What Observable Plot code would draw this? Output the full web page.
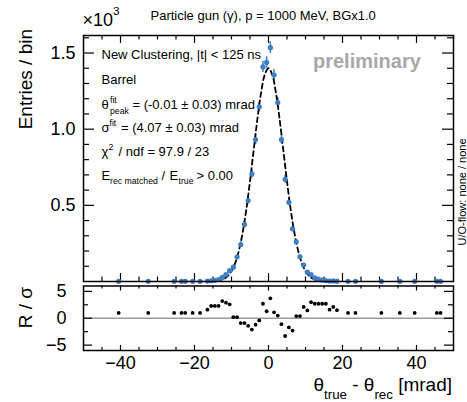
<!DOCTYPE html>
<html><head><meta charset="utf-8">
<script src="https://cdn.jsdelivr.net/npm/d3@7"></script>
<script src="https://cdn.jsdelivr.net/npm/@observablehq/plot@0.6"></script>
<style>
body{margin:0;background:#fff;}
#chart{position:relative;width:467px;height:402px;overflow:hidden;background:#fff;}
#chart svg{display:block;}
text{white-space:pre;}
</style></head><body><div id="chart"></div>
<script>
// ---- data ----
const binCenters = [-40.5,-32.5,-25.5,-23.5,-22.5,-20.5,-18.5,-16.5,-15.5,-14.5,-13.5,-12.5,-11.5,-10.5,-9.5,-8.5,-7.5,-6.5,-5.5,-4.5,-3.5,-2.5,-1.5,-0.5,0.5,1.5,2.5,3.5,4.5,5.5,6.5,7.5,8.5,9.5,10.5,11.5,12.5,13.5,14.5,15.5,16.5,17.5,18.5,21.5,23.5,30.5,35.5,39.5,45.5,46.5];
// entries per bin, in units of 10^3
const entries = [0.001,0.001,0.001,0.001,0.001,0.001,0.001,0.003,0.005,0.008,0.013,0.027,0.045,0.071,0.094,0.161,0.243,0.375,0.531,0.706,0.932,1.147,1.409,1.438,1.535,1.355,1.175,0.932,0.671,0.520,0.346,0.261,0.162,0.108,0.061,0.045,0.024,0.015,0.010,0.006,0.003,0.004,0.002,0.001,0.001,0.001,0.001,0.001,0.001,0.001];
// residuals R/sigma per bin
const residuals = [1.0,1.0,1.0,1.0,1.0,1.0,1.0,1.6,2.3,2.3,2.3,3.2,2.9,2.6,0.2,0.2,-0.9,-0.9,-1.4,-2.1,-1.2,-0.4,2.7,1.3,3.7,1.1,0.5,-1.1,-3.3,-1.7,-2.3,0.4,0.4,2.1,1.45,3.0,2.7,2.7,2.7,2.7,1.6,2.1,1.5,1.0,1.0,1.0,1.0,1.0,1.0,1.0];
// fitted curve, read at integer points (units of 10^3)
const fitX = [-14,-13,-12,-11,-10,-9,-8,-7,-6,-5,-4,-3,-2,-1,0,1,2,3,4,5,6,7,8,9,10,11,12,13,14];
const fitY = [0.004,0.009,0.018,0.036,0.068,0.121,0.203,0.319,0.472,0.658,0.864,1.067,1.240,1.358,1.400,1.358,1.240,1.067,0.864,0.658,0.472,0.319,0.203,0.121,0.068,0.036,0.018,0.009,0.004];
// ticks
const xMajorTicks = [-40,-20,0,20,40];
const xMinorTicks = [-45,-35,-30,-25,-15,-10,-5,5,10,15,25,30,35,45];
const yMajorTicks = [0.5,1.0,1.5];
const yMinorTicks = [0.1,0.2,0.3,0.4,0.6,0.7,0.8,0.9,1.1,1.2,1.3,1.4,1.6];
const rMajorTicks = [-5,0,5];
const rMinorTicks = [-2.5,2.5];

// ---- layout ----
const FONT = "'Liberation Sans', Arial, Helvetica, sans-serif";
const BLUE = "#3d7fc4";
const W = 467, mL = 83, mR = 14;
const topH = 284, topMT = 35, topMB = 3;
const botH = 118, botMT = 1.5, botMB = 52;
const FW = W - mL - mR;
const topFH = topH - topMT - topMB;
const botFH = botH - botMT - botMB;

const hist = binCenters.map((x, i) => ({x, y: entries[i], err: Math.sqrt(entries[i] * 1000) / 1000, r: residuals[i]}));
const fit = fitX.map((x, i) => ({x, y: fitY[i]}));

const plotStyle = {fontFamily: FONT, fontSize: "18px", color: "#000", background: "transparent", overflow: "visible"};

function frameTicks(xMaj, xMin, yMaj, yMin, fh, xl, xs, yl, ys) {
  return [
    Plot.ruleY(yMaj, {insetRight: FW - yl, stroke: "#000", strokeWidth: 1.2}),
    Plot.ruleY(yMaj, {insetLeft: FW - yl, stroke: "#000", strokeWidth: 1.2}),
    Plot.ruleY(yMin, {insetRight: FW - ys, stroke: "#000", strokeWidth: 1.2}),
    Plot.ruleY(yMin, {insetLeft: FW - ys, stroke: "#000", strokeWidth: 1.2}),
    Plot.ruleX(xMaj, {insetTop: fh - xl, stroke: "#000", strokeWidth: 1.2}),
    Plot.ruleX(xMaj, {insetBottom: fh - xl, stroke: "#000", strokeWidth: 1.2}),
    Plot.ruleX(xMin, {insetTop: fh - xs, stroke: "#000", strokeWidth: 1.2}),
    Plot.ruleX(xMin, {insetBottom: fh - xs, stroke: "#000", strokeWidth: 1.2})
  ];
}

const topPlot = Plot.plot({
  width: W, height: topH, marginLeft: mL, marginRight: mR, marginTop: topMT, marginBottom: topMB,
  style: plotStyle,
  x: {domain: [-50, 50], axis: null},
  y: {domain: [0, 1.615]},
  marks: [
    Plot.axisY({ticks: yMajorTicks, tickSize: 0, tickPadding: 8, tickFormat: d3.format(".1f"), label: null}),
    ...frameTicks(xMajorTicks, xMinorTicks, yMajorTicks, yMinorTicks, topFH, 8, 4.5, 11, 6),
    Plot.ruleX(hist, {x: "x", y1: d => d.y - d.err, y2: d => d.y + d.err, stroke: BLUE, strokeWidth: 1.5}),
    Plot.line(fit, {x: "x", y: "y", curve: "catmull-rom", stroke: "#000", strokeWidth: 1.8, strokeDasharray: "5,3.5"}),
    Plot.dot(hist, {x: "x", y: "y", r: 2.6, fill: BLUE}),
    Plot.frame({stroke: "#000", strokeWidth: 1.5})
  ]
});

const botPlot = Plot.plot({
  width: W, height: botH, marginLeft: mL, marginRight: mR, marginTop: botMT, marginBottom: botMB,
  style: plotStyle,
  x: {domain: [-50, 50]},
  y: {domain: [-6, 6]},
  marks: [
    Plot.ruleY([0], {stroke: "#999", strokeWidth: 1.6}),
    Plot.axisX({ticks: xMajorTicks, tickSize: 0, tickPadding: 6, label: null}),
    Plot.axisY({ticks: rMajorTicks, tickSize: 0, tickPadding: 17, label: null}),
    ...frameTicks(xMajorTicks, xMinorTicks, rMajorTicks, rMinorTicks, botFH, 5, 3, 9, 5),
    Plot.dot(hist, {x: "x", y: "r", r: 1.9, fill: "#000"}),
    Plot.frame({stroke: "#000", strokeWidth: 1.5})
  ]
});

const chart = document.getElementById("chart");
chart.appendChild(topPlot);
chart.appendChild(botPlot);

function addText(svg, {x, y, size, anchor = "start", weight = "normal", fill = "#000", rotate = 0, parts}) {
  const t = d3.select(svg).append("text")
    .attr("transform", `translate(${x},${y})` + (rotate ? ` rotate(${rotate})` : ""))
    .attr("font-family", FONT).attr("font-size", size).attr("text-anchor", anchor)
    .attr("font-weight", weight).attr("fill", fill);
  let cur = 0;
  for (const p of parts) {
    const [str, shift = 0, scale = 1] = typeof p === "string" ? [p] : p;
    t.append("tspan").attr("dy", shift - cur).attr("font-size", size * scale).text(str);
    cur = shift;
  }
  return t;
}

// top panel texts
addText(topPlot, {x: 150.5, y: 19.5, size: 13, parts: ["Particle gun (γ), p = 1000 MeV, BGx1.0"]});
addText(topPlot, {x: 82.5, y: 26, size: 18, parts: ["×10", ["3", -11, 0.65]]});
addText(topPlot, {x: 31.5, y: 29, size: 19, anchor: "end", rotate: -90, parts: ["Entries / bin"]});
addText(topPlot, {x: 313, y: 67.5, size: 20, weight: "bold", fill: "#a8a8a8", parts: ["preliminary"]});
addText(topPlot, {x: 466, y: 192, size: 11, anchor: "middle", rotate: -90, parts: ["U/O-flow: none / none"]});

const LX = 101.5, LS = 13, SS = 8.7;
addText(topPlot, {x: LX, y: 59, size: LS, parts: ["New Clustering, |t| < 125 ns"]});
addText(topPlot, {x: LX, y: 84, size: LS, parts: ["Barrel"]});
addText(topPlot, {x: LX, y: 109, size: LS, parts: ["θ"]});
addText(topPlot, {x: 110, y: 103, size: SS, parts: ["fit"]});
addText(topPlot, {x: 110, y: 113.5, size: SS, parts: ["peak"]});
addText(topPlot, {x: 132.5, y: 109, size: LS, parts: ["= (-0.01 ± 0.03) mrad"]});
addText(topPlot, {x: LX, y: 132, size: LS, parts: ["σ"]});
addText(topPlot, {x: 109.5, y: 126, size: SS, parts: ["fit"]});
addText(topPlot, {x: 121, y: 132, size: LS, parts: ["= (4.07 ± 0.03) mrad"]});
addText(topPlot, {x: LX, y: 155.5, size: LS, parts: ["χ"]});
addText(topPlot, {x: 108.5, y: 149.5, size: SS, parts: ["2"]});
addText(topPlot, {x: 118.5, y: 155.5, size: LS, parts: ["/ ndf = 97.9 / 23"]});
addText(topPlot, {x: LX, y: 179.5, size: LS, parts: ["E"]});
addText(topPlot, {x: 110, y: 183.5, size: SS, parts: ["rec matched"]});
addText(topPlot, {x: 161.5, y: 179.5, size: LS, parts: ["/"]});
addText(topPlot, {x: 169.5, y: 179.5, size: LS, parts: ["E"]});
addText(topPlot, {x: 178.5, y: 183.5, size: SS, parts: ["true"]});
addText(topPlot, {x: 196.5, y: 179.5, size: LS, parts: ["> 0.00"]});

// bottom panel texts (origin at page y = 284)
addText(botPlot, {x: 31.5, y: 3, size: 19, anchor: "end", rotate: -90, parts: ["R / σ"]});
addText(botPlot, {x: 452, y: 107, size: 19, anchor: "end", parts: ["θ", ["true", 7.5, 0.7], [" - θ", 0, 1], ["rec", 7.5, 0.7], [" [mrad]", 0, 1]]});
</script>
</body></html>
